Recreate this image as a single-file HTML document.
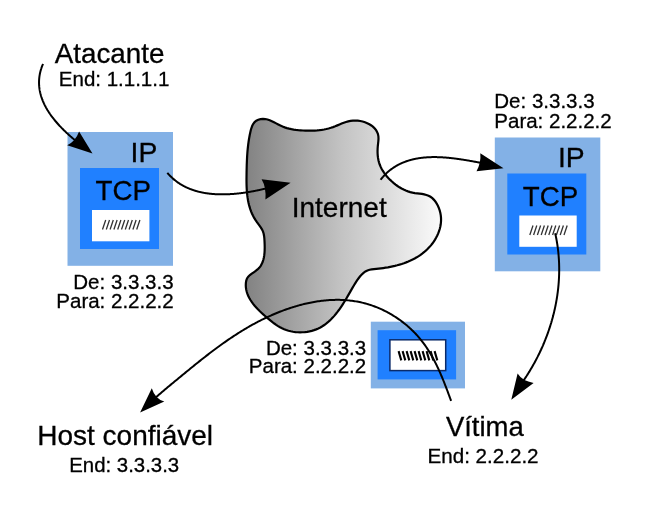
<!DOCTYPE html>
<html><head><meta charset="utf-8"><style>
html,body{margin:0;padding:0;background:#fff;width:651px;height:512px;overflow:hidden}
svg{display:block;will-change:transform}
</style></head><body>
<svg width="651" height="512" viewBox="0 0 651 512">
<defs><linearGradient id="cg" gradientUnits="userSpaceOnUse" x1="243" y1="0" x2="449" y2="0"><stop offset="0" stop-color="#808080"/><stop offset="0.471" stop-color="#c2c2c2"/><stop offset="1" stop-color="#ffffff"/></linearGradient></defs>
<rect width="651" height="512" fill="#fff"/>
<g font-family='"Liberation Sans", sans-serif' fill="#000" stroke-width="0.3">
<rect x="67.5" y="132" width="105.5" height="133.8" fill="#83b1e6"/>
<rect x="80" y="168" width="79" height="81" fill="#2080ff"/>
<rect x="92" y="210" width="57.4" height="31.3" fill="#fff"/>
<path d="M102.50,229.50 L105.70,220.00 M106.30,229.50 L109.50,220.00 M110.10,229.50 L113.30,220.00 M113.90,229.50 L117.10,220.00 M117.70,229.50 L120.90,220.00 M121.50,229.50 L124.70,220.00 M125.30,229.50 L128.50,220.00 M129.10,229.50 L132.30,220.00 M132.90,229.50 L136.10,220.00 M136.70,229.50 L139.90,220.00" stroke="#333" stroke-width="1.3" fill="none"/>
<text x="130.58791" y="161.9" font-size="28.3" text-anchor="start" stroke="#000" stroke-width="0.3">IP</text>
<text x="95.57675" y="200.3" font-size="27.7" text-anchor="start" stroke="#000" stroke-width="0.3">TCP</text>
<g transform="translate(427.3,5.5)"><rect x="67.5" y="132" width="105.5" height="133.8" fill="#83b1e6"/>
<rect x="80" y="168" width="79" height="81" fill="#2080ff"/>
<rect x="92" y="210" width="57.4" height="31.3" fill="#fff"/>
<path d="M102.50,229.50 L105.70,220.00 M106.30,229.50 L109.50,220.00 M110.10,229.50 L113.30,220.00 M113.90,229.50 L117.10,220.00 M117.70,229.50 L120.90,220.00 M121.50,229.50 L124.70,220.00 M125.30,229.50 L128.50,220.00 M129.10,229.50 L132.30,220.00 M132.90,229.50 L136.10,220.00 M136.70,229.50 L139.90,220.00" stroke="#333" stroke-width="1.3" fill="none"/>
<text x="130.58791" y="161.9" font-size="28.3" text-anchor="start" stroke="#000" stroke-width="0.3">IP</text>
<text x="95.57675" y="200.3" font-size="27.7" text-anchor="start" stroke="#000" stroke-width="0.3">TCP</text></g>
<rect x="370.8" y="321.7" width="94.2" height="66.7" fill="#83b1e6"/>
<rect x="377.6" y="330.2" width="78.5" height="49.2" fill="#2080ff"/>
<rect x="389.9" y="339.8" width="55.8" height="30.8" fill="#fff" stroke="#0a2a6a" stroke-width="1.5"/>
<path d="M398.60,351.10 L401.30,360.40 M402.60,351.10 L405.30,360.40 M406.60,351.10 L409.30,360.40 M410.60,351.10 L413.30,360.40 M414.60,351.10 L417.30,360.40 M418.60,351.10 L421.30,360.40 M422.60,351.10 L425.30,360.40 M426.60,351.10 L429.30,360.40 M430.60,351.10 L433.30,360.40 M434.60,351.10 L437.30,360.40" stroke="#000" stroke-width="2.1" fill="none"/>
<path d="M262.93,118.87 L265.25,119.04 L267.51,119.51 L269.72,120.25 L271.88,121.17 L274.02,122.23 L276.15,123.36 L278.27,124.49 L280.40,125.58 L282.55,126.55 L284.73,127.38 L286.94,128.08 L289.17,128.66 L291.42,129.15 L293.69,129.54 L295.98,129.86 L298.29,130.12 L300.62,130.33 L302.96,130.49 L305.31,130.61 L307.67,130.68 L310.03,130.70 L312.39,130.67 L314.75,130.57 L317.10,130.40 L319.44,130.17 L321.76,129.86 L324.07,129.48 L326.35,129.01 L328.61,128.46 L330.85,127.82 L333.05,127.09 L335.21,126.27 L337.36,125.38 L339.50,124.47 L341.64,123.58 L343.80,122.74 L346.00,121.98 L348.24,121.35 L350.53,120.88 L352.90,120.61 L355.33,120.55 L357.78,120.68 L360.22,121.01 L362.64,121.54 L364.99,122.25 L367.24,123.15 L369.38,124.22 L371.36,125.47 L373.16,126.88 L374.75,128.46 L376.09,130.20 L377.17,132.10 L377.95,134.14 L378.39,136.33 L378.50,138.66 L378.35,141.08 L378.08,143.56 L377.81,146.04 L377.63,148.49 L377.55,150.90 L377.59,153.28 L377.75,155.61 L378.03,157.91 L378.45,160.16 L379.01,162.37 L379.71,164.53 L380.57,166.64 L381.58,168.71 L382.73,170.72 L384.02,172.67 L385.42,174.57 L386.93,176.41 L388.52,178.19 L390.20,179.90 L391.94,181.55 L393.74,183.12 L395.60,184.61 L397.52,186.01 L399.50,187.32 L401.54,188.51 L403.63,189.60 L405.77,190.56 L407.97,191.39 L410.22,192.09 L412.51,192.64 L414.85,193.05 L417.22,193.36 L419.58,193.64 L421.92,193.96 L424.20,194.36 L426.41,194.93 L428.52,195.71 L430.50,196.79 L432.33,198.18 L434.00,199.85 L435.51,201.75 L436.84,203.83 L438.00,206.04 L438.98,208.33 L439.76,210.65 L440.36,212.98 L440.77,215.31 L441.00,217.63 L441.06,219.95 L440.96,222.25 L440.70,224.53 L440.29,226.80 L439.73,229.03 L439.04,231.23 L438.22,233.40 L437.27,235.52 L436.21,237.60 L435.04,239.63 L433.76,241.60 L432.39,243.50 L430.93,245.35 L429.38,247.12 L427.76,248.82 L426.06,250.44 L424.31,251.97 L422.49,253.43 L420.61,254.80 L418.69,256.10 L416.71,257.33 L414.68,258.47 L412.61,259.55 L410.50,260.56 L408.35,261.51 L406.17,262.38 L403.96,263.20 L401.73,263.95 L399.47,264.65 L397.18,265.29 L394.89,265.87 L392.57,266.40 L390.25,266.88 L387.92,267.32 L385.59,267.70 L383.26,268.05 L380.93,268.35 L378.61,268.61 L376.30,268.83 L374.00,269.04 L371.75,269.32 L369.55,269.76 L367.44,270.45 L365.43,271.47 L363.55,272.84 L361.78,274.49 L360.13,276.33 L358.61,278.26 L357.22,280.20 L355.93,282.12 L354.72,284.04 L353.57,285.96 L352.44,287.89 L351.32,289.85 L350.18,291.85 L349.03,293.86 L347.86,295.89 L346.66,297.94 L345.45,299.98 L344.20,302.02 L342.92,304.05 L341.62,306.06 L340.27,308.05 L338.89,310.01 L337.47,311.92 L336.00,313.79 L334.49,315.61 L332.93,317.37 L331.31,319.06 L329.65,320.68 L327.92,322.22 L326.13,323.67 L324.29,325.03 L322.37,326.28 L320.39,327.43 L318.34,328.46 L316.21,329.38 L314.03,330.16 L311.78,330.83 L309.49,331.37 L307.16,331.80 L304.81,332.09 L302.45,332.27 L300.07,332.32 L297.70,332.25 L295.35,332.06 L293.01,331.74 L290.71,331.30 L288.46,330.73 L286.25,330.04 L284.11,329.23 L282.04,328.29 L280.03,327.24 L278.08,326.09 L276.17,324.84 L274.30,323.51 L272.45,322.11 L270.61,320.65 L268.77,319.14 L266.92,317.59 L265.07,316.01 L263.22,314.39 L261.41,312.73 L259.63,311.03 L257.89,309.29 L256.23,307.52 L254.64,305.70 L253.13,303.84 L251.73,301.94 L250.45,300.00 L249.29,298.02 L248.27,295.99 L247.41,293.92 L246.72,291.81 L246.21,289.65 L245.89,287.44 L245.78,285.19 L245.88,282.89 L246.26,280.60 L247.01,278.46 L248.24,276.62 L249.87,275.07 L251.76,273.68 L253.74,272.33 L255.70,270.94 L257.54,269.47 L259.18,267.84 L260.56,266.05 L261.69,264.10 L262.61,262.01 L263.33,259.81 L263.88,257.52 L264.26,255.15 L264.52,252.72 L264.65,250.26 L264.70,247.79 L264.67,245.33 L264.59,242.90 L264.48,240.51 L264.33,238.19 L264.08,235.93 L263.66,233.74 L263.02,231.62 L262.08,229.56 L260.88,227.56 L259.49,225.60 L258.03,223.65 L256.59,221.68 L255.25,219.68 L254.03,217.64 L252.93,215.56 L251.94,213.46 L251.05,211.32 L250.26,209.15 L249.57,206.95 L248.96,204.73 L248.44,202.49 L247.99,200.23 L247.62,197.94 L247.31,195.65 L247.06,193.34 L246.86,191.01 L246.71,188.68 L246.61,186.34 L246.54,183.99 L246.51,181.65 L246.50,179.30 L246.52,176.95 L246.55,174.61 L246.58,172.27 L246.63,169.94 L246.68,167.61 L246.74,165.30 L246.82,162.98 L246.91,160.67 L247.02,158.36 L247.15,156.05 L247.30,153.74 L247.48,151.42 L247.69,149.10 L247.93,146.78 L248.21,144.45 L248.52,142.12 L248.88,139.78 L249.27,137.42 L249.72,135.06 L250.21,132.68 L250.76,130.30 L251.43,127.99 L252.25,125.80 L253.30,123.81 L254.62,122.08 L256.27,120.69 L258.29,119.68 L260.56,119.08 L262.93,118.87 Z" fill="url(#cg)" stroke="#000" stroke-width="2.2"/>
<path d="M43.06,63.78 L42.92,64.12 L42.77,64.46 L42.63,64.80 L42.50,65.14 L42.36,65.48 L42.23,65.82 L42.10,66.16 L41.97,66.49 L41.85,66.83 L41.73,67.17 L41.61,67.50 L41.49,67.84 L41.38,68.18 L41.27,68.51 L41.17,68.85 L41.06,69.18 L40.96,69.51 L40.86,69.85 L40.76,70.18 L40.67,70.51 L40.58,70.85 L40.49,71.18 L40.41,71.51 L40.33,71.84 L40.25,72.17 L40.17,72.50 L40.09,72.84 L40.02,73.17 L39.95,73.49 L39.89,73.82 L39.82,74.15 L39.76,74.48 L39.70,74.81 L39.64,75.14 L39.59,75.46 L39.54,75.79 L39.49,76.12 L39.44,76.44 L39.40,76.77 L39.36,77.09 L39.32,77.42 L39.28,77.74 L39.25,78.07 L39.22,78.39 L39.19,78.71 L39.16,79.04 L39.14,79.36 L39.12,79.68 L39.10,80.00 L39.08,80.32 L39.07,80.65 L39.05,80.97 L39.04,81.29 L39.04,81.60 L39.03,81.92 L39.03,82.24 L39.03,82.56 L39.03,82.88 L39.03,83.20 L39.04,83.51 L39.05,83.83 L39.06,84.15 L39.07,84.46 L39.09,84.78 L39.10,85.09 L39.12,85.41 L39.14,85.72 L39.17,86.03 L39.20,86.35 L39.22,86.66 L39.25,86.97 L39.29,87.28 L39.32,87.60 L39.36,87.91 L39.40,88.22 L39.44,88.53 L39.48,88.84 L39.53,89.15 L39.57,89.46 L39.62,89.76 L39.68,90.07 L39.73,90.38 L39.79,90.69 L39.84,90.99 L39.90,91.30 L39.96,91.60 L40.03,91.91 L40.09,92.21 L40.16,92.52 L40.23,92.82 L40.30,93.13 L40.37,93.43 L40.45,93.73 L40.53,94.03 L40.61,94.34 L40.69,94.64 L40.77,94.94 L40.85,95.24 L40.94,95.54 L41.03,95.84 L41.12,96.14 L41.21,96.43 L41.31,96.73 L41.40,97.03 L41.50,97.33 L41.60,97.62 L41.70,97.92 L41.80,98.21 L41.91,98.51 L42.01,98.80 L42.12,99.10 L42.23,99.39 L42.34,99.69 L42.45,99.98 L42.57,100.27 L42.69,100.56 L42.80,100.85 L42.92,101.14 L43.04,101.44 L43.17,101.72 L43.29,102.01 L43.42,102.30 L43.55,102.59 L43.68,102.88 L43.81,103.17 L43.94,103.45 L44.07,103.74 L44.21,104.03 L44.35,104.31 L44.48,104.60 L44.62,104.88 L44.77,105.17 L44.91,105.45 L45.05,105.73 L45.20,106.01 L45.35,106.30 L45.50,106.58 L45.65,106.86 L45.80,107.14 L45.95,107.42 L46.11,107.70 L46.26,107.98 L46.42,108.26 L46.58,108.53 L46.74,108.81 L46.90,109.09 L47.06,109.37 L47.23,109.64 L47.39,109.92 L47.56,110.19 L47.73,110.47 L47.90,110.74 L48.07,111.01 L48.24,111.29 L48.41,111.56 L48.58,111.83 L48.76,112.10 L48.94,112.37 L49.11,112.64 L49.29,112.91 L49.47,113.18 L49.66,113.45 L49.84,113.72 L50.02,113.99 L50.21,114.25 L50.39,114.52 L50.58,114.79 L50.77,115.05 L50.96,115.32 L51.15,115.58 L51.34,115.85 L51.53,116.11 L51.72,116.37 L51.92,116.63 L52.12,116.90 L52.31,117.16 L52.51,117.42 L52.71,117.68 L52.91,117.94 L53.11,118.20 L53.31,118.46 L53.51,118.71 L53.72,118.97 L53.92,119.23 L54.13,119.49 L54.33,119.74 L54.54,120.00 L54.75,120.25 L54.96,120.51 L55.17,120.76 L55.38,121.01 L55.59,121.26 L55.80,121.52 L56.01,121.77 L56.23,122.02 L56.44,122.27 L56.66,122.52 L56.87,122.77 L57.09,123.02 L57.31,123.26 L57.53,123.51 L57.75,123.76 L57.97,124.00 L58.19,124.25 L58.41,124.50 L58.63,124.74 L58.85,124.98 L59.08,125.23 L59.30,125.47 L59.53,125.71 L59.75,125.96 L59.98,126.20 L60.20,126.44 L60.43,126.68 L60.66,126.92 L60.89,127.16 L61.12,127.39 L61.35,127.63 L61.58,127.87 L61.81,128.10 L62.04,128.34 L62.27,128.58 L62.50,128.81 L62.74,129.05 L62.97,129.28 L63.20,129.51 L63.44,129.74 L63.67,129.98 L63.91,130.21 L64.14,130.44 L64.38,130.67 L64.61,130.90 L64.85,131.13 L65.09,131.35 L65.33,131.58 L65.56,131.81 L65.80,132.04 L66.04,132.26 L66.28,132.49 L66.52,132.71 L66.76,132.94 L67.00,133.16 L67.24,133.38 L67.48,133.60 L67.72,133.83 L67.96,134.05 L68.20,134.27 L68.44,134.49 L68.68,134.71 L68.93,134.93 L69.17,135.14 L69.41,135.36 L69.65,135.58 L69.90,135.79 L70.14,136.01 L70.38,136.22 L70.62,136.44 L70.87,136.65 L71.11,136.86 L71.35,137.08 L71.60,137.29 L71.84,137.50 L72.09,137.71 L72.33,137.92 L72.57,138.13 L72.82,138.34 L73.06,138.55 L73.30,138.75 L73.55,138.96 L73.79,139.17 L74.04,139.37 L74.28,139.58 L74.52,139.78 L74.77,139.98 L75.01,140.19 L75.26,140.39 L75.50,140.59 L75.74,140.79 L75.99,140.99 L76.23,141.19 L76.47,141.39 L76.72,141.59 L76.96,141.79 L77.20,141.98 L77.44,142.18 L77.69,142.38 L77.93,142.57 L78.17,142.77 L78.41,142.96 L78.65,143.15 L78.89,143.34 L79.14,143.54 L79.38,143.73 L79.62,143.92 L79.86,144.11 L80.10,144.30 L80.34,144.49 L80.58,144.67 L80.82,144.86" fill="none" stroke="#000" stroke-width="2"/>
<path d="M167.28,172.78 L167.54,173.08 L167.80,173.38 L168.06,173.68 L168.32,173.98 L168.59,174.27 L168.85,174.56 L169.12,174.85 L169.39,175.14 L169.66,175.42 L169.93,175.70 L170.20,175.98 L170.48,176.26 L170.75,176.53 L171.03,176.80 L171.31,177.07 L171.59,177.34 L171.87,177.60 L172.15,177.86 L172.44,178.12 L172.72,178.38 L173.01,178.63 L173.30,178.88 L173.59,179.13 L173.88,179.38 L174.17,179.62 L174.46,179.86 L174.76,180.10 L175.05,180.34 L175.35,180.58 L175.65,180.81 L175.95,181.04 L176.25,181.27 L176.55,181.49 L176.85,181.72 L177.15,181.94 L177.46,182.16 L177.77,182.37 L178.07,182.59 L178.38,182.80 L178.69,183.01 L179.00,183.22 L179.32,183.42 L179.63,183.62 L179.94,183.83 L180.26,184.02 L180.58,184.22 L180.89,184.41 L181.21,184.61 L181.53,184.80 L181.85,184.98 L182.17,185.17 L182.50,185.35 L182.82,185.53 L183.15,185.71 L183.47,185.89 L183.80,186.06 L184.13,186.24 L184.46,186.41 L184.79,186.58 L185.12,186.74 L185.45,186.91 L185.78,187.07 L186.12,187.23 L186.45,187.39 L186.79,187.54 L187.13,187.70 L187.46,187.85 L187.80,188.00 L188.14,188.15 L188.48,188.30 L188.82,188.44 L189.17,188.58 L189.51,188.72 L189.85,188.86 L190.20,189.00 L190.55,189.13 L190.89,189.26 L191.24,189.39 L191.59,189.52 L191.94,189.65 L192.29,189.77 L192.64,189.90 L192.99,190.02 L193.34,190.14 L193.70,190.25 L194.05,190.37 L194.40,190.48 L194.76,190.60 L195.12,190.71 L195.47,190.81 L195.83,190.92 L196.19,191.02 L196.55,191.13 L196.91,191.23 L197.27,191.33 L197.63,191.42 L197.99,191.52 L198.35,191.61 L198.72,191.71 L199.08,191.80 L199.45,191.88 L199.81,191.97 L200.18,192.06 L200.54,192.14 L200.91,192.22 L201.28,192.30 L201.65,192.38 L202.02,192.46 L202.39,192.53 L202.76,192.61 L203.13,192.68 L203.50,192.75 L203.87,192.82 L204.24,192.88 L204.61,192.95 L204.99,193.01 L205.36,193.08 L205.74,193.14 L206.11,193.19 L206.49,193.25 L206.86,193.31 L207.24,193.36 L207.62,193.42 L207.99,193.47 L208.37,193.52 L208.75,193.56 L209.13,193.61 L209.51,193.66 L209.89,193.70 L210.27,193.74 L210.65,193.78 L211.03,193.82 L211.41,193.86 L211.79,193.90 L212.17,193.93 L212.55,193.97 L212.94,194.00 L213.32,194.03 L213.70,194.06 L214.09,194.09 L214.47,194.11 L214.85,194.14 L215.24,194.16 L215.62,194.19 L216.01,194.21 L216.39,194.23 L216.78,194.25 L217.17,194.26 L217.55,194.28 L217.94,194.29 L218.33,194.31 L218.71,194.32 L219.10,194.33 L219.49,194.34 L219.88,194.35 L220.26,194.35 L220.65,194.36 L221.04,194.36 L221.43,194.37 L221.82,194.37 L222.20,194.37 L222.59,194.37 L222.98,194.37 L223.37,194.37 L223.76,194.36 L224.15,194.36 L224.54,194.35 L224.93,194.34 L225.32,194.34 L225.71,194.33 L226.10,194.31 L226.49,194.30 L226.88,194.29 L227.27,194.28 L227.66,194.26 L228.05,194.24 L228.44,194.23 L228.83,194.21 L229.22,194.19 L229.61,194.17 L230.00,194.15 L230.39,194.12 L230.78,194.10 L231.17,194.08 L231.56,194.05 L231.95,194.02 L232.34,194.00 L232.73,193.97 L233.12,193.94 L233.51,193.91 L233.90,193.88 L234.29,193.84 L234.68,193.81 L235.07,193.78 L235.46,193.74 L235.85,193.70 L236.24,193.67 L236.63,193.63 L237.02,193.59 L237.41,193.55 L237.79,193.51 L238.18,193.47 L238.57,193.42 L238.96,193.38 L239.35,193.34 L239.74,193.29 L240.12,193.24 L240.51,193.20 L240.90,193.15 L241.29,193.10 L241.67,193.05 L242.06,193.00 L242.45,192.95 L242.83,192.90 L243.22,192.85 L243.60,192.79 L243.99,192.74 L244.37,192.68 L244.76,192.63 L245.14,192.57 L245.53,192.51 L245.91,192.46 L246.30,192.40 L246.68,192.34 L247.06,192.28 L247.45,192.22 L247.83,192.16 L248.21,192.09 L248.59,192.03 L248.97,191.97 L249.35,191.90 L249.73,191.84 L250.11,191.77 L250.49,191.71 L250.87,191.64 L251.25,191.57 L251.63,191.51 L252.01,191.44 L252.39,191.37 L252.76,191.30 L253.14,191.23 L253.52,191.16 L253.89,191.08 L254.27,191.01 L254.64,190.94 L255.02,190.87 L255.39,190.79 L255.77,190.72 L256.14,190.64 L256.51,190.57 L256.88,190.49 L257.25,190.42 L257.63,190.34 L258.00,190.26 L258.37,190.19 L258.73,190.11 L259.10,190.03 L259.47,189.95 L259.84,189.87 L260.21,189.79 L260.57,189.71 L260.94,189.63 L261.30,189.55 L261.67,189.47 L262.03,189.38 L262.39,189.30 L262.76,189.22 L263.12,189.13 L263.48,189.05 L263.84,188.97 L264.20,188.88 L264.56,188.80 L264.92,188.71 L265.28,188.63 L265.63,188.54 L265.99,188.46 L266.35,188.37 L266.70,188.28 L267.06,188.20 L267.41,188.11 L267.76,188.02 L268.11,187.93 L268.47,187.85 L268.82,187.76 L269.17,187.67 L269.51,187.58 L269.86,187.49 L270.21,187.40 L270.56,187.31 L270.90,187.22 L271.25,187.13 L271.59,187.04 L271.94,186.95 L272.28,186.86 L272.62,186.77 L272.96,186.68 L273.30,186.59 L273.64,186.50 L273.98,186.41" fill="none" stroke="#000" stroke-width="2"/>
<path d="M380.58,179.75 L380.84,179.42 L381.10,179.09 L381.36,178.76 L381.62,178.44 L381.89,178.12 L382.16,177.80 L382.42,177.49 L382.69,177.17 L382.97,176.87 L383.24,176.56 L383.51,176.26 L383.79,175.96 L384.06,175.66 L384.34,175.37 L384.62,175.07 L384.90,174.79 L385.18,174.50 L385.47,174.22 L385.75,173.94 L386.04,173.66 L386.32,173.39 L386.61,173.11 L386.90,172.84 L387.19,172.58 L387.48,172.31 L387.78,172.05 L388.07,171.80 L388.37,171.54 L388.66,171.29 L388.96,171.04 L389.26,170.79 L389.56,170.55 L389.86,170.30 L390.17,170.06 L390.47,169.83 L390.78,169.59 L391.08,169.36 L391.39,169.13 L391.70,168.91 L392.01,168.68 L392.32,168.46 L392.63,168.24 L392.94,168.02 L393.26,167.81 L393.57,167.60 L393.89,167.39 L394.21,167.18 L394.53,166.98 L394.85,166.78 L395.17,166.58 L395.49,166.38 L395.81,166.19 L396.13,166.00 L396.46,165.81 L396.79,165.62 L397.11,165.44 L397.44,165.25 L397.77,165.08 L398.10,164.90 L398.43,164.72 L398.76,164.55 L399.09,164.38 L399.43,164.21 L399.76,164.05 L400.10,163.88 L400.44,163.72 L400.77,163.56 L401.11,163.40 L401.45,163.25 L401.79,163.10 L402.13,162.95 L402.47,162.80 L402.82,162.65 L403.16,162.51 L403.51,162.37 L403.85,162.23 L404.20,162.09 L404.55,161.96 L404.89,161.82 L405.24,161.69 L405.59,161.57 L405.94,161.44 L406.29,161.31 L406.65,161.19 L407.00,161.07 L407.35,160.95 L407.71,160.84 L408.06,160.72 L408.42,160.61 L408.78,160.50 L409.13,160.39 L409.49,160.29 L409.85,160.18 L410.21,160.08 L410.57,159.98 L410.93,159.88 L411.29,159.79 L411.66,159.69 L412.02,159.60 L412.38,159.51 L412.75,159.42 L413.11,159.33 L413.48,159.25 L413.85,159.16 L414.21,159.08 L414.58,159.00 L414.95,158.92 L415.32,158.85 L415.69,158.77 L416.06,158.70 L416.43,158.63 L416.80,158.56 L417.18,158.49 L417.55,158.43 L417.92,158.37 L418.30,158.30 L418.67,158.24 L419.04,158.18 L419.42,158.13 L419.80,158.07 L420.17,158.02 L420.55,157.97 L420.93,157.92 L421.30,157.87 L421.68,157.82 L422.06,157.77 L422.44,157.73 L422.82,157.69 L423.20,157.65 L423.58,157.61 L423.96,157.57 L424.35,157.53 L424.73,157.50 L425.11,157.47 L425.49,157.44 L425.88,157.41 L426.26,157.38 L426.65,157.35 L427.03,157.32 L427.41,157.30 L427.80,157.28 L428.19,157.25 L428.57,157.23 L428.96,157.22 L429.35,157.20 L429.73,157.18 L430.12,157.17 L430.51,157.16 L430.90,157.14 L431.28,157.13 L431.67,157.12 L432.06,157.12 L432.45,157.11 L432.84,157.10 L433.23,157.10 L433.62,157.10 L434.01,157.10 L434.40,157.10 L434.79,157.10 L435.18,157.10 L435.57,157.10 L435.96,157.11 L436.36,157.11 L436.75,157.12 L437.14,157.13 L437.53,157.14 L437.92,157.15 L438.32,157.16 L438.71,157.17 L439.10,157.19 L439.49,157.20 L439.89,157.22 L440.28,157.24 L440.67,157.25 L441.07,157.27 L441.46,157.29 L441.85,157.31 L442.25,157.34 L442.64,157.36 L443.03,157.38 L443.43,157.41 L443.82,157.44 L444.22,157.46 L444.61,157.49 L445.00,157.52 L445.40,157.55 L445.79,157.58 L446.19,157.61 L446.58,157.65 L446.97,157.68 L447.37,157.72 L447.76,157.75 L448.16,157.79 L448.55,157.82 L448.94,157.86 L449.34,157.90 L449.73,157.94 L450.13,157.98 L450.52,158.02 L450.91,158.06 L451.31,158.11 L451.70,158.15 L452.09,158.19 L452.49,158.24 L452.88,158.29 L453.27,158.33 L453.67,158.38 L454.06,158.43 L454.45,158.48 L454.84,158.52 L455.24,158.57 L455.63,158.62 L456.02,158.68 L456.41,158.73 L456.80,158.78 L457.19,158.83 L457.59,158.89 L457.98,158.94 L458.37,158.99 L458.76,159.05 L459.15,159.11 L459.54,159.16 L459.93,159.22 L460.32,159.28 L460.71,159.33 L461.09,159.39 L461.48,159.45 L461.87,159.51 L462.26,159.57 L462.65,159.63 L463.03,159.69 L463.42,159.75 L463.81,159.81 L464.20,159.87 L464.58,159.94 L464.97,160.00 L465.35,160.06 L465.74,160.12 L466.12,160.19 L466.51,160.25 L466.89,160.31 L467.27,160.38 L467.66,160.44 L468.04,160.51 L468.42,160.57 L468.80,160.64 L469.18,160.71 L469.57,160.77 L469.95,160.84 L470.33,160.90 L470.71,160.97 L471.08,161.04 L471.46,161.11 L471.84,161.17 L472.22,161.24 L472.60,161.31 L472.97,161.38 L473.35,161.44 L473.72,161.51 L474.10,161.58 L474.47,161.65 L474.85,161.72 L475.22,161.78 L475.59,161.85 L475.97,161.92 L476.34,161.99 L476.71,162.06 L477.08,162.13 L477.45,162.19 L477.82,162.26 L478.19,162.33 L478.55,162.40 L478.92,162.47 L479.29,162.54 L479.65,162.60 L480.02,162.67 L480.38,162.74 L480.75,162.81 L481.11,162.88 L481.47,162.94 L481.84,163.01 L482.20,163.08 L482.56,163.15 L482.92,163.21 L483.28,163.28 L483.64,163.35 L483.99,163.42 L484.35,163.48 L484.71,163.55 L485.06,163.61 L485.42,163.68 L485.77,163.75 L486.12,163.81 L486.48,163.88 L486.83,163.94 L487.18,164.00 L487.53,164.07 L487.88,164.13 L488.22,164.20" fill="none" stroke="#000" stroke-width="2"/>
<path d="M555.16,233.18 L555.28,233.71 L555.40,234.24 L555.51,234.77 L555.63,235.31 L555.74,235.84 L555.85,236.38 L555.96,236.91 L556.07,237.44 L556.18,237.98 L556.28,238.51 L556.38,239.05 L556.48,239.58 L556.58,240.12 L556.68,240.66 L556.77,241.19 L556.86,241.73 L556.95,242.26 L557.04,242.80 L557.13,243.34 L557.22,243.88 L557.30,244.41 L557.38,244.95 L557.46,245.49 L557.54,246.03 L557.61,246.57 L557.69,247.10 L557.76,247.64 L557.83,248.18 L557.90,248.72 L557.97,249.26 L558.03,249.80 L558.09,250.34 L558.16,250.88 L558.22,251.42 L558.27,251.96 L558.33,252.50 L558.38,253.04 L558.44,253.58 L558.49,254.12 L558.54,254.66 L558.58,255.20 L558.63,255.74 L558.67,256.28 L558.71,256.83 L558.75,257.37 L558.79,257.91 L558.83,258.45 L558.86,258.99 L558.90,259.53 L558.93,260.08 L558.96,260.62 L558.98,261.16 L559.01,261.70 L559.03,262.24 L559.06,262.79 L559.08,263.33 L559.10,263.87 L559.11,264.41 L559.13,264.96 L559.14,265.50 L559.15,266.04 L559.16,266.58 L559.17,267.13 L559.18,267.67 L559.18,268.21 L559.19,268.75 L559.19,269.30 L559.19,269.84 L559.19,270.38 L559.18,270.92 L559.18,271.47 L559.17,272.01 L559.16,272.55 L559.15,273.10 L559.14,273.64 L559.13,274.18 L559.11,274.72 L559.09,275.27 L559.07,275.81 L559.05,276.35 L559.03,276.89 L559.01,277.44 L558.98,277.98 L558.95,278.52 L558.93,279.06 L558.89,279.61 L558.86,280.15 L558.83,280.69 L558.79,281.23 L558.76,281.78 L558.72,282.32 L558.68,282.86 L558.63,283.40 L558.59,283.94 L558.55,284.48 L558.50,285.03 L558.45,285.57 L558.40,286.11 L558.35,286.65 L558.29,287.19 L558.24,287.73 L558.18,288.27 L558.12,288.81 L558.06,289.35 L558.00,289.89 L557.94,290.43 L557.87,290.98 L557.81,291.51 L557.74,292.05 L557.67,292.59 L557.60,293.13 L557.53,293.67 L557.45,294.21 L557.38,294.75 L557.30,295.29 L557.22,295.83 L557.14,296.37 L557.06,296.91 L556.97,297.44 L556.89,297.98 L556.80,298.52 L556.71,299.06 L556.62,299.59 L556.53,300.13 L556.43,300.67 L556.34,301.20 L556.24,301.74 L556.15,302.28 L556.05,302.81 L555.95,303.35 L555.84,303.88 L555.74,304.42 L555.63,304.95 L555.53,305.49 L555.42,306.02 L555.31,306.55 L555.20,307.09 L555.08,307.62 L554.97,308.15 L554.85,308.69 L554.73,309.22 L554.61,309.75 L554.49,310.28 L554.37,310.82 L554.25,311.35 L554.12,311.88 L553.99,312.41 L553.87,312.94 L553.74,313.47 L553.61,314.00 L553.47,314.53 L553.34,315.06 L553.20,315.59 L553.07,316.12 L552.93,316.64 L552.79,317.17 L552.65,317.70 L552.50,318.23 L552.36,318.75 L552.21,319.28 L552.06,319.80 L551.92,320.33 L551.76,320.85 L551.61,321.38 L551.46,321.90 L551.31,322.43 L551.15,322.95 L550.99,323.47 L550.83,324.00 L550.67,324.52 L550.51,325.04 L550.35,325.56 L550.18,326.08 L550.02,326.60 L549.85,327.12 L549.68,327.64 L549.51,328.16 L549.34,328.68 L549.16,329.20 L548.99,329.72 L548.81,330.24 L548.64,330.75 L548.46,331.27 L548.28,331.79 L548.10,332.30 L547.91,332.82 L547.73,333.33 L547.54,333.85 L547.36,334.36 L547.17,334.87 L546.98,335.38 L546.79,335.90 L546.59,336.41 L546.40,336.92 L546.20,337.43 L546.01,337.94 L545.81,338.45 L545.61,338.96 L545.41,339.47 L545.21,339.98 L545.00,340.48 L544.80,340.99 L544.59,341.50 L544.39,342.00 L544.18,342.51 L543.97,343.01 L543.76,343.52 L543.54,344.02 L543.33,344.52 L543.11,345.02 L542.90,345.53 L542.68,346.03 L542.46,346.53 L542.24,347.03 L542.02,347.53 L541.79,348.03 L541.57,348.52 L541.34,349.02 L541.12,349.52 L540.89,350.01 L540.66,350.51 L540.43,351.01 L540.20,351.50 L539.96,351.99 L539.73,352.49 L539.49,352.98 L539.25,353.47 L539.01,353.96 L538.77,354.45 L538.53,354.94 L538.29,355.43 L538.05,355.92 L537.80,356.41 L537.56,356.90 L537.31,357.38 L537.06,357.87 L536.81,358.35 L536.56,358.84 L536.31,359.32 L536.05,359.80 L535.80,360.29 L535.54,360.77 L535.28,361.25 L535.03,361.73 L534.77,362.21 L534.50,362.69 L534.24,363.16 L533.98,363.64 L533.71,364.12 L533.45,364.59 L533.18,365.07 L532.91,365.54 L532.64,366.02 L532.37,366.49 L532.10,366.96 L531.83,367.43 L531.55,367.90 L531.28,368.37 L531.00,368.84 L530.72,369.31 L530.44,369.78 L530.16,370.24 L529.88,370.71 L529.60,371.17 L529.32,371.64 L529.03,372.10 L528.75,372.56 L528.46,373.02 L528.17,373.48 L527.88,373.94 L527.59,374.40 L527.30,374.86 L527.01,375.32 L526.71,375.77 L526.42,376.23 L526.12,376.68 L525.82,377.14 L525.52,377.59 L525.22,378.04 L524.92,378.49 L524.62,378.94 L524.32,379.39 L524.01,379.84 L523.71,380.29 L523.40,380.74 L523.10,381.18 L522.79,381.63 L522.48,382.07 L522.17,382.52 L521.85,382.96 L521.54,383.40 L521.23,383.84 L520.91,384.28 L520.60,384.72 L520.28,385.15 L519.96,385.59 L519.64,386.03 L519.32,386.46 L519.00,386.90" fill="none" stroke="#000" stroke-width="2"/>
<path d="M451.08,400.87 L450.66,399.70 L450.23,398.53 L449.80,397.36 L449.36,396.18 L448.93,395.00 L448.49,393.82 L448.05,392.64 L447.61,391.46 L447.17,390.27 L446.72,389.08 L446.27,387.89 L445.81,386.71 L445.35,385.52 L444.89,384.33 L444.42,383.13 L443.94,381.94 L443.47,380.75 L442.98,379.56 L442.50,378.38 L442.00,377.19 L441.50,376.00 L441.00,374.82 L440.49,373.64 L439.97,372.46 L439.45,371.28 L438.92,370.10 L438.38,368.93 L437.83,367.76 L437.28,366.60 L436.72,365.44 L436.16,364.28 L435.58,363.12 L435.00,361.98 L434.40,360.83 L433.80,359.69 L433.20,358.56 L432.58,357.43 L431.95,356.31 L431.31,355.19 L430.67,354.08 L430.01,352.97 L429.34,351.88 L428.67,350.78 L427.98,349.70 L427.28,348.63 L426.57,347.56 L425.85,346.50 L425.12,345.44 L424.37,344.40 L423.62,343.37 L422.85,342.34 L422.07,341.32 L421.28,340.32 L420.48,339.32 L419.66,338.33 L418.83,337.36 L417.99,336.39 L417.14,335.43 L416.27,334.48 L415.40,333.55 L414.51,332.62 L413.61,331.71 L412.70,330.80 L411.78,329.91 L410.85,329.02 L409.91,328.15 L408.96,327.29 L407.99,326.44 L407.02,325.60 L406.04,324.78 L405.05,323.96 L404.05,323.16 L403.04,322.37 L402.02,321.59 L400.99,320.82 L399.96,320.06 L398.91,319.32 L397.86,318.59 L396.80,317.87 L395.73,317.16 L394.65,316.47 L393.56,315.79 L392.47,315.12 L391.37,314.46 L390.26,313.82 L389.15,313.19 L388.03,312.58 L386.90,311.97 L385.77,311.38 L384.63,310.81 L383.48,310.25 L382.33,309.70 L381.17,309.17 L380.00,308.65 L378.83,308.14 L377.66,307.65 L376.48,307.17 L375.29,306.71 L374.10,306.26 L372.91,305.83 L371.71,305.41 L370.51,305.01 L369.30,304.62 L368.09,304.24 L366.87,303.89 L365.65,303.54 L364.43,303.22 L363.21,302.90 L361.98,302.61 L360.75,302.33 L359.51,302.06 L358.28,301.81 L357.04,301.58 L355.80,301.36 L354.55,301.16 L353.31,300.97 L352.06,300.80 L350.81,300.64 L349.56,300.50 L348.30,300.37 L347.04,300.26 L345.79,300.16 L344.53,300.07 L343.27,300.00 L342.00,299.94 L340.74,299.90 L339.48,299.87 L338.21,299.85 L336.94,299.85 L335.68,299.86 L334.41,299.89 L333.14,299.92 L331.87,299.97 L330.60,300.04 L329.33,300.11 L328.05,300.20 L326.78,300.30 L325.51,300.41 L324.24,300.54 L322.97,300.67 L321.70,300.82 L320.42,300.98 L319.15,301.15 L317.88,301.34 L316.61,301.53 L315.34,301.74 L314.07,301.96 L312.80,302.18 L311.54,302.42 L310.27,302.67 L309.00,302.93 L307.74,303.21 L306.48,303.49 L305.21,303.78 L303.95,304.08 L302.69,304.39 L301.44,304.71 L300.18,305.04 L298.93,305.38 L297.68,305.73 L296.43,306.09 L295.18,306.46 L293.93,306.84 L292.69,307.22 L291.45,307.62 L290.21,308.02 L288.97,308.44 L287.74,308.86 L286.51,309.28 L285.28,309.72 L284.06,310.17 L282.84,310.62 L281.62,311.08 L280.40,311.55 L279.19,312.02 L277.98,312.51 L276.78,313.00 L275.58,313.49 L274.38,314.00 L273.19,314.51 L272.00,315.03 L270.81,315.55 L269.63,316.08 L268.45,316.62 L267.28,317.16 L266.11,317.71 L264.94,318.27 L263.78,318.83 L262.63,319.39 L261.48,319.97 L260.33,320.54 L259.19,321.13 L258.05,321.72 L256.92,322.31 L255.79,322.91 L254.66,323.51 L253.54,324.12 L252.42,324.74 L251.31,325.36 L250.20,325.98 L249.09,326.61 L247.99,327.25 L246.89,327.89 L245.80,328.53 L244.70,329.18 L243.62,329.84 L242.53,330.49 L241.45,331.16 L240.37,331.82 L239.30,332.50 L238.23,333.17 L237.16,333.85 L236.09,334.54 L235.03,335.23 L233.97,335.92 L232.92,336.61 L231.86,337.31 L230.81,338.02 L229.76,338.73 L228.72,339.44 L227.67,340.15 L226.63,340.87 L225.60,341.60 L224.56,342.32 L223.53,343.05 L222.50,343.78 L221.47,344.52 L220.44,345.26 L219.42,346.00 L218.39,346.75 L217.37,347.49 L216.36,348.25 L215.34,349.00 L214.32,349.76 L213.31,350.52 L212.30,351.28 L211.29,352.04 L210.28,352.81 L209.28,353.58 L208.27,354.35 L207.27,355.13 L206.26,355.91 L205.26,356.68 L204.26,357.47 L203.26,358.25 L202.27,359.04 L201.27,359.82 L200.27,360.61 L199.28,361.40 L198.28,362.20 L197.29,362.99 L196.30,363.79 L195.31,364.59 L194.32,365.39 L193.32,366.19 L192.33,366.99 L191.34,367.79 L190.36,368.60 L189.37,369.41 L188.38,370.21 L187.39,371.02 L186.40,371.83 L185.41,372.64 L184.42,373.45 L183.43,374.27 L182.45,375.08 L181.46,375.89 L180.47,376.71 L179.48,377.52 L178.49,378.34 L177.50,379.15 L176.51,379.97 L175.52,380.78 L174.52,381.60 L173.53,382.42 L172.54,383.24 L171.55,384.05 L170.56,384.87 L169.57,385.69 L168.57,386.51 L167.59,387.34 L166.60,388.16 L165.61,388.99 L164.63,389.82 L163.64,390.65 L162.66,391.48 L161.69,392.31 L160.71,393.15 L159.74,393.99 L158.77,394.83 L157.81,395.67 L156.84,396.52 L155.89,397.37 L154.93,398.23 L153.98,399.09 L153.04,399.95 L152.10,400.81 L151.17,401.68 L150.24,402.56" fill="none" stroke="#000" stroke-width="2"/>
<path d="M92.50,153.40 L79.10,131.50 Q75.47,141.42 67.20,145.20 Z" fill="#000"/>
<path d="M290.60,182.80 L261.60,179.30 Q266.35,187.32 265.40,199.40 Z" fill="#000"/>
<path d="M503.50,168.20 L480.30,153.20 Q481.25,162.48 476.50,171.30 Z" fill="#000"/>
<path d="M511.30,399.80 L517.60,373.60 Q522.30,381.15 533.60,383.00 Z" fill="#000"/>
<path d="M140.10,412.40 L151.80,388.20 Q155.12,398.98 164.30,401.50 Z" fill="#000"/>
<text x="54.7444" y="63.3" font-size="27.8" text-anchor="start" stroke="#000" stroke-width="0.3">Atacante</text>
<text x="58.8272" y="86.4" font-size="20.5" text-anchor="start" stroke="#000" stroke-width="0.3">End: 1.1.1.1</text>
<text x="73.319" y="289.2" font-size="20.5" text-anchor="start" stroke="#000" stroke-width="0.3">De: 3.3.3.3</text>
<text x="56.319" y="307.8" font-size="20.5" text-anchor="start" stroke="#000" stroke-width="0.3">Para: 2.2.2.2</text>
<text x="494.319" y="107.8" font-size="20.5" text-anchor="start" stroke="#000" stroke-width="0.3">De: 3.3.3.3</text>
<text x="494.319" y="128.1" font-size="20.5" text-anchor="start" stroke="#000" stroke-width="0.3">Para: 2.2.2.2</text>
<text x="265.91900000000004" y="354.8" font-size="20.5" text-anchor="start" stroke="#000" stroke-width="0.3">De: 3.3.3.3</text>
<text x="248.819" y="373.2" font-size="20.5" text-anchor="start" stroke="#000" stroke-width="0.3">Para: 2.2.2.2</text>
<text x="291.7156" y="217" font-size="28" text-anchor="start" stroke="#000" stroke-width="0.3">Internet</text>
<text x="37.204" y="444.9" font-size="28" text-anchor="start" stroke="#000" stroke-width="0.3">Host confiável</text>
<text x="69.22720000000001" y="471.9" font-size="20.4" text-anchor="start" stroke="#000" stroke-width="0.3">End: 3.3.3.3</text>
<text x="445.879" y="436.1" font-size="27.5" text-anchor="start" stroke="#000" stroke-width="0.3">Vítima</text>
<text x="427.51079999999996" y="463.4" font-size="20.6" text-anchor="start" stroke="#000" stroke-width="0.3">End: 2.2.2.2</text>
</g></svg>
</body></html>
